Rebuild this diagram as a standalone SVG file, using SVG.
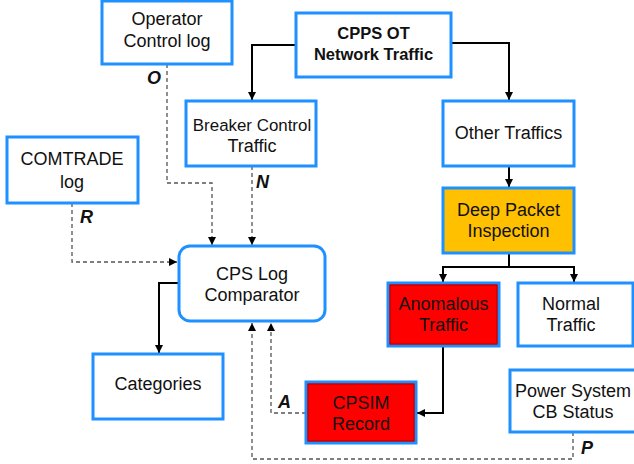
<svg xmlns="http://www.w3.org/2000/svg" width="634" height="464" viewBox="0 0 634 464">
<defs>
<marker id="ah" viewBox="0 0 10 10" refX="10" refY="5" markerWidth="9" markerHeight="8" markerUnits="userSpaceOnUse" orient="auto">
<path d="M0,0 L10,5 L0,10 z" fill="#000"/>
</marker>
<style>
.box{fill:#fff;stroke:#1E90FF;stroke-width:3}
.red{fill:#FF0000}
.amber{fill:#FFC000}
.inner{fill:none;stroke:#B00000;stroke-width:1}
text{font-family:"Liberation Sans",Arial,sans-serif;font-size:18px;fill:#111;text-anchor:middle}
.b{font-weight:bold;font-size:16.5px}
.lab{font-weight:bold;font-style:italic;font-size:18px;text-anchor:start}
.solid{fill:none;stroke:#000;stroke-width:2;marker-end:url(#ah)}
.dash{fill:none;stroke:#555;stroke-width:1.3;stroke-dasharray:4,3;marker-end:url(#ah)}
</style>
</defs>
<rect width="634" height="464" fill="#fff"/>
<g id="connectors">
<path class="solid" d="M296,45 H252 V100"/>
<path class="solid" d="M451,43 H509 V100"/>
<path class="solid" d="M509,166 V187"/>
<path class="solid" d="M509,253 V267 H443 V282"/>
<path class="solid" d="M509,267 H574 V282"/>
<path class="solid" d="M443,346 V413 H417"/>
<path class="solid" d="M179,283 H159 V353"/>
<path class="dash" d="M167,64 V183 H212 V245"/>
<path class="dash" d="M252,166 V245"/>
<path class="dash" d="M72,203 V262 H177"/>
<path class="dash" d="M306,413 H271 V323"/>
<path class="dash" d="M573,432 V459 H252 V323"/>
<text class="lab" x="147" y="84">O</text>
<text class="lab" x="256" y="188">N</text>
<text class="lab" x="80" y="223">R</text>
<text class="lab" x="278" y="408">A</text>
<text class="lab" x="581" y="454">P</text>
</g>
<g id="operator">
<rect class="box" x="102" y="1" width="130" height="63"/>
<text x="167" y="25">Operator</text>
<text x="167" y="47">Control log</text>
</g>
<g id="cpps">
<rect class="box" x="296" y="13" width="155" height="64"/>
<text class="b" x="373.5" y="39">CPPS OT</text>
<text class="b" x="373.5" y="60">Network Traffic</text>
</g>
<g id="breaker">
<rect class="box" x="186" y="101" width="130" height="65"/>
<text x="252" y="131" style="font-size:16.9px">Breaker Control</text>
<text x="252" y="152">Traffic</text>
</g>
<g id="other">
<rect class="box" x="443" y="101" width="131" height="65"/>
<text x="508.5" y="139">Other Traffics</text>
</g>
<g id="comtrade">
<rect class="box" x="7" y="137" width="131" height="66"/>
<text x="72" y="165">COMTRADE</text>
<text x="72" y="188">log</text>
</g>
<g id="dpi">
<rect class="box amber" x="443" y="188" width="131" height="65"/>
<text x="508.5" y="216">Deep Packet</text>
<text x="508.5" y="237">Inspection</text>
</g>
<g id="comparator">
<rect class="box" x="179" y="246" width="146" height="75" rx="11"/>
<text x="252" y="280">CPS Log</text>
<text x="252" y="301">Comparator</text>
</g>
<g id="anomalous">
<rect class="box red" x="388" y="283" width="111" height="63"/>
<rect class="inner" x="390" y="285" width="107" height="59"/>
<text x="443.5" y="310">Anomalous</text>
<text x="443.5" y="331">Traffic</text>
</g>
<g id="normal">
<rect class="box" x="518" y="283" width="115" height="63"/>
<text x="571" y="310">Normal</text>
<text x="571" y="331">Traffic</text>
</g>
<g id="categories">
<rect class="box" x="93" y="354" width="130" height="65"/>
<text x="158" y="390">Categories</text>
</g>
<g id="cpsim">
<rect class="box red" x="306" y="382" width="110" height="61"/>
<rect class="inner" x="308" y="384" width="106" height="57"/>
<text x="361" y="409">CPSIM</text>
<text x="361" y="430">Record</text>
</g>
<g id="power">
<rect class="box" x="510" y="370" width="126" height="62"/>
<text x="573" y="397">Power System</text>
<text x="573" y="418">CB Status</text>
</g>
</svg>
